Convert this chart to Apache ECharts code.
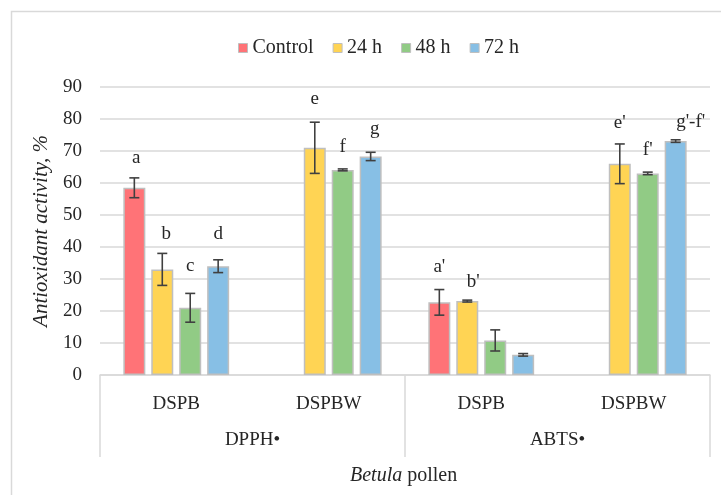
<!DOCTYPE html>
<html><head><meta charset="utf-8">
<script src="https://cdn.jsdelivr.net/npm/echarts@6/dist/echarts.min.js"></script>
<style>html,body{margin:0;padding:0;background:#fff}#c{width:721px;height:495px}</style>
</head><body><div id="c"></div>
<script>
var categories = ['DSPB', 'DSPBW', 'DSPB', 'DSPBW'];
var groups = ['DPPH•', 'ABTS•'];
var seriesNames = ['Control', '24 h', '48 h', '72 h'];
var control = [58.5, null, 22.7, null];
var h24 = [33, 71, 23.1, 66];
var h48 = [21, 64.1, 10.8, 63];
var h72 = [34, 68.3, 6.3, 73.1];
var errControl = [3.1, null, 4.0, null];
var errH24 = [5.0, 8.0, 0.3, 6.2];
var errH48 = [4.5, 0.3, 3.3, 0.4];
var errH72 = [2.0, 1.3, 0.4, 0.4];
// significance letters: series index, category index, text, label height (value units)
var letterSeries = [0, 1, 2, 3, 1, 2, 3, 0, 1, 1, 2, 3];
var letterCats = [0, 0, 0, 0, 1, 1, 1, 2, 2, 3, 3, 3];
var letterText = ['a', 'b', 'c', 'd', 'e', 'f', 'g', "a'", "b'", "e'", "f'", "g'-f'"];
var letterY = [67.8, 44.2, 34, 44.2, 86.2, 71.2, 76.9, 33.9, 29.2, 78.7, 70.2, 79.1];
var letterDx = [2, 4, 0, 0, 0, 0, 4, 0, 6, 0, 0, 15];

var values = [control, h24, h48, h72];
var errs = [errControl, errH24, errH48, errH72];
var colors = ['#FF7377', '#FFD454', '#91CB85', '#87BFE5'];
var FONT = 'Liberation Serif';
var BAR_W = 22, BAR_GAP = 0.27;
function offsetOf(i) {
  var total = 4 * BAR_W + 3 * BAR_W * BAR_GAP;
  return -total / 2 + i * BAR_W * (1 + BAR_GAP) + BAR_W / 2;
}

var series = [];
seriesNames.forEach(function (name, i) {
  series.push({
    name: name, type: 'bar', xAxisIndex: 0, yAxisIndex: 0,
    barWidth: BAR_W, barGap: (BAR_GAP * 100) + '%',
    data: values[i].map(function (v) { return v == null ? '-' : v; }),
    itemStyle: { color: colors[i], borderColor: '#BFBFBF', borderWidth: 1.5 },
    emphasis: { disabled: true }, z: 2
  });
});
seriesNames.forEach(function (name, i) {
  var d = [];
  values[i].forEach(function (v, c) { if (v != null) d.push([c, v, errs[i][c]]); });
  series.push({
    type: 'custom', xAxisIndex: 0, yAxisIndex: 0, z: 5, silent: true,
    data: d,
    renderItem: function (params, api) {
      var c = api.value(0), v = api.value(1), e = api.value(2);
      var top = api.coord([c, v + e]);
      var bot = api.coord([c, v - e]);
      var x = top[0] + offsetOf(i);
      var cap = 5;
      var st = { stroke: '#404040', lineWidth: 1.6 };
      return { type: 'group', children: [
        { type: 'line', shape: { x1: x, y1: top[1], x2: x, y2: bot[1] }, style: st },
        { type: 'line', shape: { x1: x - cap, y1: top[1], x2: x + cap, y2: top[1] }, style: st },
        { type: 'line', shape: { x1: x - cap, y1: bot[1], x2: x + cap, y2: bot[1] }, style: st }
      ]};
    }
  });
});
var letterData = letterText.map(function (t, k) {
  return [letterCats[k], letterY[k], letterSeries[k], letterDx[k], t];
});
series.push({
  type: 'custom', xAxisIndex: 0, yAxisIndex: 0, z: 6, silent: true,
  data: letterData,
  renderItem: function (params, api) {
    var p = api.coord([api.value(0), api.value(1)]);
    var s = api.value(2), dx = api.value(3);
    return { type: 'text', style: {
      x: p[0] + offsetOf(s) + dx, y: p[1], text: letterData[params.dataIndex][4],
      textAlign: 'center', textVerticalAlign: 'middle',
      font: '19px "' + FONT + '"', fill: '#262626'
    }};
  }
});

var chart = echarts.init(document.getElementById('c'), null, { renderer: 'canvas' });
chart.setOption({
  animation: false,
  backgroundColor: '#fff',
  textStyle: { fontFamily: FONT },
  grid: { left: 100, right: 11, top: 87, bottom: 120 },
  legend: {
    data: seriesNames, left: 233, top: 33, icon: 'rect', itemWidth: 9, itemHeight: 9,
    itemGap: 19, selectedMode: false,
    textStyle: { fontFamily: FONT, fontSize: 20, color: '#262626' },
    itemStyle: { borderColor: '#BFBFBF', borderWidth: 1 }
  },
  xAxis: [
    { type: 'category', data: categories, position: 'bottom',
      axisLine: { lineStyle: { color: '#D9D9D9', width: 1.5 } },
      axisTick: { show: false },
      axisLabel: { margin: 20, fontFamily: FONT, fontSize: 19, color: '#262626' } },
    { type: 'category', data: groups, position: 'bottom', offset: 82,
      axisLine: { show: false },
      axisTick: { show: true, inside: true, length: 82, lineStyle: { color: '#D9D9D9', width: 1.5 } },
      axisLabel: { inside: true, margin: 7, fontFamily: FONT, fontSize: 19, color: '#262626' } }
  ],
  yAxis: {
    type: 'value', min: 0, max: 90, interval: 10,
    name: 'Antioxidant activity, %', nameLocation: 'middle', nameGap: 45,
    nameTextStyle: { fontFamily: FONT, fontSize: 21, fontStyle: 'italic', color: '#262626' },
    axisLine: { show: false }, axisTick: { show: false },
    axisLabel: { margin: 18, fontFamily: FONT, fontSize: 19, color: '#262626' },
    splitLine: { lineStyle: { color: '#D9D9D9', width: 1.5 } }
  },
  graphic: [
    { type: 'rect', left: 9, top: 9, shape: { width: 760, height: 540 },
      style: { fill: 'none', stroke: '#D9D9D9', lineWidth: 1.5 }, silent: true, z: -1 },
    { type: 'text', left: 350, top: 466, style: {
      text: '{i|Betula} pollen',
      rich: { i: { fontStyle: 'italic', fontFamily: FONT, fontSize: 20, fill: '#262626' } },
      font: '20px "' + FONT + '"', fill: '#262626' }, silent: true }
  ],
  series: series
});
</script></body></html>
